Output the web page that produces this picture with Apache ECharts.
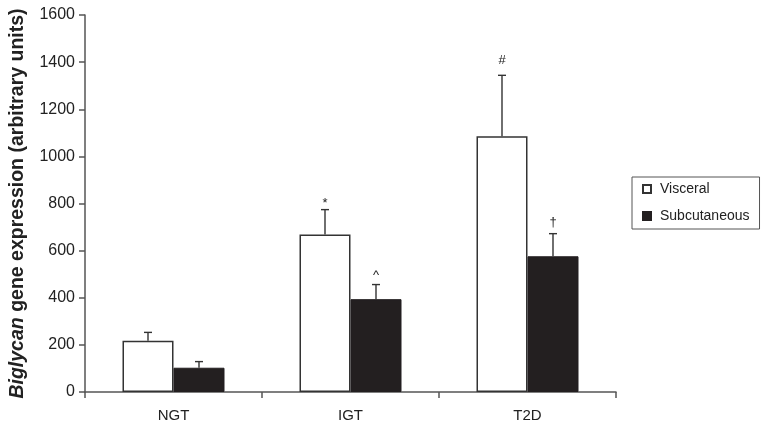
<!DOCTYPE html>
<html><head><meta charset="utf-8">
<script src="https://cdn.jsdelivr.net/npm/echarts@6/dist/echarts.min.js"></script>
<style>html,body{margin:0;padding:0;background:#fff}#c{width:769px;height:433px}</style>
</head><body><div id="c"></div>
<script>
const categories = ['NGT', 'IGT', 'T2D'];
const visceral = [217, 668, 1085];
const visceralErr = [253, 774, 1344];
const subcutaneous = [103, 394, 576];
const subcutaneousErr = [129, 456, 672];
const visceralMarks = ['', '*', '#'];
const subcutaneousMarks = ['', '^', '†'];
const yTicks = [0, 200, 400, 600, 800, 1000, 1200, 1400, 1600];

const FONT = '"Liberation Sans", Arial, sans-serif';
const chart = echarts.init(document.getElementById('c'));
const barW = 51;
const markLift = {'*': 0, '#': 8, '^': 3, '†': 5};
function errSeries(name, tops, vals, marks, offsetIdx) {
  return {
    type: 'custom', name: name, silent: true, z: 5,
    data: categories.map((c, i) => [i, vals[i], tops[i]]),
    renderItem: function (params, api) {
      const i = api.value(0);
      const base = api.coord([i, api.value(1)]);
      const top = api.coord([i, api.value(2)]);
      const x = base[0] + (offsetIdx === 0 ? -barW / 2 : barW / 2);
      const children = [
        {type: 'line', shape: {x1: x, y1: base[1], x2: x, y2: top[1]}, style: {stroke: '#333', lineWidth: 1.4}},
        {type: 'line', shape: {x1: x - 4, y1: top[1], x2: x + 4, y2: top[1]}, style: {stroke: '#333', lineWidth: 1.4}}
      ];
      const m = marks[i];
      if (m) {
        children.push({type: 'text', style: {text: m, x: x, y: top[1] - (markLift[m] || 0), align: 'center', verticalAlign: 'bottom', fill: '#222', font: '13px ' + FONT}});
      }
      return {type: 'group', children: children};
    }
  };
}
chart.setOption({
  animation: false,
  grid: {left: 83, right: 153, top: 15, bottom: 41, containLabel: false},
  legend: {
    orient: 'vertical', left: 632, top: 177,
    data: ['Visceral', 'Subcutaneous'],
    borderColor: '#555', borderWidth: 1, padding: [5, 10, 6, 10],
    itemWidth: 8, itemHeight: 8, itemGap: 13, icon: 'rect',
    textStyle: {fontSize: 14, color: '#222', fontFamily: FONT, padding: [0, 0, 0, 4]}
  },
  xAxis: {
    type: 'category', data: categories,
    axisLine: {lineStyle: {color: '#555', width: 1.5}},
    axisTick: {show: true, length: 6, lineStyle: {color: '#555', width: 1.5}},
    axisLabel: {fontSize: 15, color: '#222', margin: 16, fontFamily: FONT}
  },
  yAxis: {
    type: 'value', min: 0, max: 1600, interval: 200,
    axisLine: {show: true, lineStyle: {color: '#555', width: 1.5}},
    axisTick: {show: true, length: 6, lineStyle: {color: '#555', width: 1.5}},
    splitLine: {show: false},
    axisLabel: {fontSize: 16, color: '#222', margin: 10, fontFamily: FONT,
      formatter: function (v) { return yTicks.indexOf(v) >= 0 ? String(v) : ''; }},
    name: '{i|Biglycan }{b|gene expression (arbitrary units)}',
    nameLocation: 'middle', nameGap: 57, nameRotate: 90,
    nameTextStyle: {
      rich: {
        i: {fontSize: 19.5, fontWeight: 'bold', fontStyle: 'italic', color: '#222', fontFamily: FONT},
        b: {fontSize: 19.5, fontWeight: 'bold', color: '#222', fontFamily: FONT}
      }
    }
  },
  series: [
    {name: 'Visceral', type: 'bar', data: visceral, barWidth: barW, barGap: '0%',
      itemStyle: {color: '#fff', borderColor: '#333', borderWidth: 1.5}},
    {name: 'Subcutaneous', type: 'bar', data: subcutaneous, barWidth: barW, barGap: '0%',
      itemStyle: {color: '#231f20', borderColor: '#231f20', borderWidth: 1}},
    errSeries('ev', visceralErr, visceral, visceralMarks, 0),
    errSeries('es', subcutaneousErr, subcutaneous, subcutaneousMarks, 1)
  ]
});
</script></body></html>
